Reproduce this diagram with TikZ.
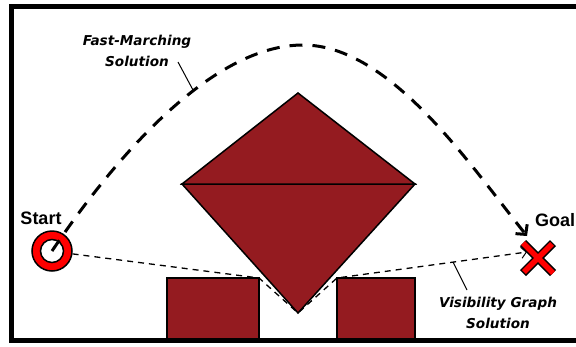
\documentclass[tikz,border=0pt]{standalone}
\usepackage{fontspec}
\setmainfont{Liberation Sans}
\newfontfamily\notefont{DejaVu Sans}
\usetikzlibrary{arrows.meta}
\definecolor{obstacle}{RGB}{148,27,32}

\begin{document}
\begin{tikzpicture}[x=1pt, y=-1pt,
		obst/.style={fill=obstacle, draw=black, line width=1.5pt, line join=miter},
		fmpath/.style={line width=3pt, dash pattern=on 13pt off 10pt},
		vgpath/.style={line width=1.3pt, dash pattern=on 6pt off 5pt},
		note/.style={font=\notefont\bfseries\itshape\fontsize{13.6}{21}\selectfont, align=center, inner sep=0pt},
		endlabel/.style={font=\bfseries\fontsize{18}{20}\selectfont, inner sep=0pt}]
	\useasboundingbox (0,0) rectangle (576,346);
	
	\coordinate (topvert) at (298,93);
	\coordinate (leftvert) at (182,184);
	\coordinate (rightvert) at (415,184);
	\coordinate (botvert) at (298,313);
	\coordinate (goal) at (538,258);
	\coordinate (fmend) at (527,236);
	\coordinate (vgend) at (527,252);
	
	% obstacles
	\draw[obst] (167,340) rectangle (259,278) coordinate (leftcorner);
	\draw[obst] (337,340) -- (337,278) coordinate (rightcorner) -- (415,278) -- (415,340) -- cycle;
	\draw[obst] (leftvert) -- (botvert) -- (rightvert) -- cycle;
	\draw[obst] (leftvert) -- (topvert) -- (rightvert) -- cycle;
	
	% start ring
	\node[circle, minimum size=40pt, fill=red, draw=black, line width=1.5pt] (start) at (52,251) {};
	\node[circle, minimum size=23pt, fill=white, draw=black, line width=1.5pt] (startin) at (start) {};
	
	% goal cross
	\draw[shift={(goal)}, line width=8.5pt, black] (-15,-15) -- (15,15) (-15,15) -- (15,-15);
	\draw[shift={(goal)}, line width=5.5pt, red, shorten <=1.3pt, shorten >=1.3pt] (-15,-15) -- (15,15) (-15,15) -- (15,-15);
	
	\node[endlabel] (Startlabel) at (41,218) {Start};
	\node[endlabel, anchor=west] (Goallabel) at (535,220) {Goal};
	
	% fast marching path
	\draw[fmpath, -{Straight Barb[length=7pt, width=15pt]}] (start.center)
		.. controls (120,150) and (215,45) .. (303,45)
		.. controls (390,45) and (470,165) .. (fmend);
	
	% visibility graph path
	\draw[vgpath, -{Straight Barb[length=5pt, width=11pt, line width=1pt]}] (start.-8) -- (leftcorner) -- (botvert) -- (rightcorner) -- (vgend);
	
	% labels
	\node[note] (fmlabel) at (137,51) {Fast-Marching\\Solution};
	\coordinate (fmtip) at (193,90);
	\draw[line width=1pt] (178,62) -- (fmtip);
	
	\node[note] (vglabel) at (498,313) {Visibility Graph\\Solution};
	\coordinate (vgtip) at (453,262);
	\draw[line width=1pt] (467,290) -- (vgtip);
	
	\draw[line width=5pt] (11.5,340) -- (11.5,6) -- (582,6) (9,340) -- (582,340);
\end{tikzpicture}
\end{document}
